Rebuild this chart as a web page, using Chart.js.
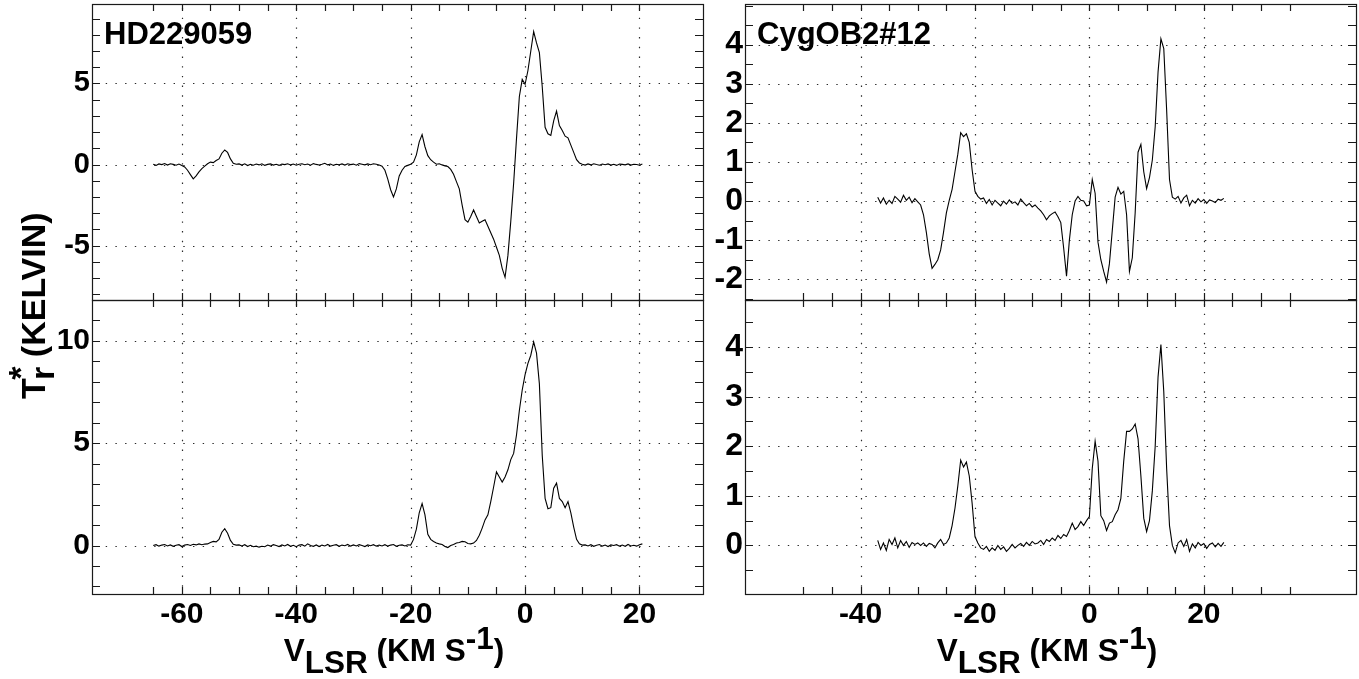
<!DOCTYPE html>
<html>
<head>
<meta charset="utf-8">
<script src="https://cdn.jsdelivr.net/npm/chart.js@4.4.1/dist/chart.umd.min.js"></script>
<style>
html,body{margin:0;padding:0;background:#fff;}
#wrap{position:relative;width:1359px;height:679px;overflow:hidden;font-family:"Liberation Sans",Arial,sans-serif;}
canvas{position:absolute;left:0;top:0;}
.ttl{position:absolute;font-weight:bold;font-size:31.5px;line-height:31.5px;white-space:nowrap;color:#000;}
.ttl .lo{position:relative;top:12px;}
.ttl .hi{position:relative;top:-12px;}
#yt{font-size:34px;line-height:34px;left:16px;top:399px;transform-origin:0 0;transform:rotate(-90deg);}
#yt .lo{top:9px;}
#yt .hi{top:-13px;margin-left:-13px;}
</style>
</head>
<body>
<div id="wrap">
<canvas id="hdTopC" width="1359" height="679"></canvas>
<canvas id="hdBotC" width="1359" height="679"></canvas>
<canvas id="cygTopC" width="1359" height="679"></canvas>
<canvas id="cygBotC" width="1359" height="679"></canvas>
<div class="ttl" style="left:394px;top:635px;transform:translateX(-50%);">V<span class="lo">LSR</span> (KM S<span class="hi">-1</span>)</div>
<div class="ttl" style="left:1047px;top:635px;transform:translateX(-50%);">V<span class="lo">LSR</span> (KM S<span class="hi">-1</span>)</div>
<div class="ttl" id="yt">T<span class="lo">r</span><span class="hi">*</span> (KELVIN)</div>
</div>
<script>
// panel names
var hdName = 'HD229059';
var cygName = 'CygOB2#12';

// velocity channels (km/s), left column
var hdVel = [
  -65,-64.5,-64,-63.5,-63,-62.5,-62,-61.5,-61,-60.5,
  -60,-59.5,-59,-58.5,-58,-57.5,-57,-56.5,-56,-55.5,
  -55,-54.5,-54,-53.5,-53,-52.5,-52,-51.5,-51,-50.5,
  -50,-49.5,-49,-48.5,-48,-47.5,-47,-46.5,-46,-45.5,
  -45,-44.5,-44,-43.5,-43,-42.5,-42,-41.5,-41,-40.5,
  -40,-39.5,-39,-38.5,-38,-37.5,-37,-36.5,-36,-35.5,
  -35,-34.5,-34,-33.5,-33,-32.5,-32,-31.5,-31,-30.5,
  -30,-29.5,-29,-28.5,-28,-27.5,-27,-26.5,-26,-25.5,
  -25,-24.5,-24,-23.5,-23,-22.5,-22,-21.5,-21,-20.5,
  -20,-19.5,-19,-18.5,-18,-17.5,-17,-16.5,-16,-15.5,
  -15,-14.5,-14,-13.5,-13,-12.5,-12,-11.5,-11,-10.5,
  -10,-9.5,-9,-8.5,-8,-7.5,-7,-6.5,-6,-5.5,
  -5,-4.5,-4,-3.5,-3,-2.5,-2,-1.5,-1,-0.5,
  0,0.5,1,1.5,2,2.5,3,3.5,4,4.5,
  5,5.5,6,6.5,7,7.5,8,8.5,9,9.5,
  10,10.5,11,11.5,12,12.5,13,13.5,14,14.5,
  15,15.5,16,16.5,17,17.5,18,18.5,19,19.5,
  20,20.5
];
// HD229059 upper spectrum (K)
var hdTop = [
  0.02,-0.05,0.04,0.00,0.06,-0.03,0.05,0.01,-0.04,0.03,
  -0.06,-0.15,-0.35,-0.62,-0.88,-0.70,-0.45,-0.25,-0.10,0.05,
  0.15,0.12,0.25,0.35,0.70,0.90,0.75,0.35,0.08,0.02,
  0.04,-0.03,0.05,-0.06,0.02,-0.04,0.03,-0.02,0.05,-0.05,
  0.01,0.04,-0.03,0.02,-0.05,0.03,0.00,0.05,-0.02,0.03,
  -0.04,0.02,0.05,-0.01,0.03,-0.04,0.06,0.01,-0.03,0.02,
  0.08,-0.02,0.03,-0.05,0.02,-0.01,0.04,-0.03,0.05,0.00,
  0.03,-0.04,0.06,0.02,-0.02,0.04,-0.01,0.05,0.02,-0.03,
  -0.10,-0.35,-0.90,-1.55,-2.00,-1.50,-0.70,-0.35,-0.12,-0.05,
  0.02,0.15,0.60,1.40,1.85,1.10,0.55,0.30,0.15,0.02,
  0.05,-0.02,-0.08,-0.12,-0.30,-0.60,-1.05,-1.50,-2.50,-3.40,
  -3.55,-3.20,-2.80,-3.20,-3.60,-3.50,-3.40,-3.80,-4.20,-4.60,
  -5.10,-5.60,-6.40,-6.95,-5.60,-3.50,-1.15,1.60,4.20,5.25,
  4.95,5.80,7.00,8.20,7.50,6.90,4.80,2.30,1.90,1.80,
  2.70,3.30,2.40,2.10,1.75,1.65,1.20,0.75,0.30,0.10,
  0.02,-0.03,0.04,-0.02,0.05,0.00,-0.04,0.03,-0.01,0.04,
  -0.03,0.02,-0.05,0.03,0.01,-0.02,0.04,-0.03,0.02,0.00,
  -0.04,0.03
];
// HD229059 lower spectrum (K)
var hdBottom = [
  0.00,0.04,-0.03,0.02,0.05,-0.02,0.03,-0.04,0.01,0.04,
  -0.05,0.02,0.05,0.00,0.06,0.03,0.08,0.04,0.07,0.08,
  0.15,0.20,0.18,0.30,0.65,0.82,0.60,0.25,0.06,0.02,
  0.03,-0.02,0.04,-0.05,0.01,-0.06,-0.03,-0.08,-0.04,-0.06,
  0.02,-0.03,0.04,0.00,-0.05,0.03,-0.02,0.05,-0.04,0.01,
  -0.06,0.02,0.04,-0.03,0.08,0.00,-0.04,0.03,-0.05,0.02,
  -0.02,0.05,-0.03,0.01,0.04,-0.04,0.02,-0.01,0.05,-0.03,
  0.03,-0.02,0.04,0.00,-0.05,0.03,-0.01,0.04,-0.03,0.02,
  -0.02,0.04,-0.03,0.02,0.05,-0.04,0.01,0.03,-0.02,0.04,
  0.02,0.30,0.80,1.60,2.05,1.50,0.55,0.30,0.20,0.12,
  0.08,0.05,-0.05,-0.10,0.00,0.05,0.12,0.15,0.20,0.18,
  0.10,0.08,0.12,0.25,0.50,0.85,1.25,1.50,2.15,2.86,
  3.60,3.35,3.10,3.35,3.70,4.20,4.50,5.40,6.60,7.60,
  8.35,8.90,9.30,9.95,9.40,7.90,4.40,2.30,1.80,1.85,
  2.80,3.05,2.30,2.15,1.85,2.15,1.60,0.90,0.30,0.08,
  0.02,0.03,-0.02,0.04,-0.04,0.01,0.05,-0.03,0.02,-0.05,
  0.03,0.00,0.04,-0.03,0.02,-0.04,0.05,-0.02,0.01,-0.03,
  0.04,0.08
];

// velocity channels (km/s), right column
var cygVel = [
  -37,-36.5,-36,-35.5,-35,-34.5,-34,-33.5,-33,-32.5,
  -32,-31.5,-31,-30.5,-30,-29.5,-29,-28.5,-28,-27.5,
  -27,-26.5,-26,-25.5,-25,-24.5,-24,-23.5,-23,-22.5,
  -22,-21.5,-21,-20.5,-20,-19.5,-19,-18.5,-18,-17.5,
  -17,-16.5,-16,-15.5,-15,-14.5,-14,-13.5,-13,-12.5,
  -12,-11.5,-11,-10.5,-10,-9.5,-9,-8.5,-8,-7.5,
  -7,-6.5,-6,-5.5,-5,-4.5,-4,-3.5,-3,-2.5,
  -2,-1.5,-1,-0.5,0,0.5,1,1.5,2,2.5,
  3,3.5,4,4.5,5,5.5,6,6.5,7,7.5,
  8,8.5,9,9.5,10,10.5,11,11.5,12,12.5,
  13,13.5,14,14.5,15,15.5,16,16.5,17,17.5,
  18,18.5,19,19.5,20,20.5,21,21.5,22,22.5,
  23,23.5
];
// CygOB2#12 upper spectrum (K)
var cygTop = [
  0.10,-0.05,0.08,-0.08,0.02,-0.06,0.12,0.05,-0.03,0.15,
  0.02,0.10,-0.04,0.06,-0.02,-0.10,-0.35,-0.80,-1.35,-1.72,
  -1.62,-1.50,-1.25,-0.80,-0.30,0.02,0.30,0.75,1.20,1.75,
  1.65,1.72,1.50,0.80,0.25,0.12,0.05,0.08,-0.06,0.04,
  -0.10,0.02,-0.05,-0.12,0.00,-0.08,0.03,-0.06,-0.02,-0.10,
  0.05,-0.04,-0.12,-0.06,-0.15,-0.10,-0.18,-0.25,-0.35,-0.48,
  -0.38,-0.32,-0.28,-0.40,-0.55,-1.20,-1.92,-1.00,-0.35,0.00,
  0.12,0.02,0.00,-0.12,-0.10,0.55,0.20,-1.05,-1.50,-1.80,
  -2.07,-1.60,-0.75,0.10,0.35,0.18,0.25,-0.35,-1.80,-1.45,
  -0.30,1.25,1.45,0.75,0.32,0.60,1.05,1.90,3.30,4.15,
  3.90,2.33,0.55,0.10,0.05,0.12,-0.05,0.08,0.15,-0.12,
  0.02,-0.05,0.06,-0.02,0.04,-0.06,0.03,0.00,-0.04,0.05,
  0.02,0.07
];
// CygOB2#12 lower spectrum (K)
var cygBottom = [
  0.10,-0.08,0.05,-0.10,0.12,0.02,0.15,-0.05,0.10,0.00,
  0.08,-0.04,0.06,0.02,0.05,0.00,0.05,-0.02,0.04,0.02,
  -0.05,0.05,0.12,0.02,0.05,0.15,0.40,0.75,1.20,1.72,
  1.58,1.68,1.40,0.85,0.18,0.05,-0.05,-0.08,-0.02,-0.12,
  -0.05,-0.10,0.00,-0.08,-0.03,-0.12,-0.06,0.02,-0.05,0.00,
  0.04,-0.02,0.06,0.00,0.08,0.03,0.05,0.10,0.02,0.12,
  0.08,0.15,0.10,0.20,0.14,0.22,0.18,0.30,0.45,0.32,
  0.38,0.48,0.40,0.50,0.58,1.55,2.10,1.70,0.60,0.50,
  0.30,0.45,0.48,0.62,0.72,0.95,1.70,2.30,2.30,2.35,
  2.45,2.15,1.40,0.55,0.28,0.50,1.10,2.00,3.40,4.05,
  3.10,1.55,0.40,0.00,-0.15,0.05,0.10,-0.02,0.12,-0.12,
  0.03,-0.05,0.06,0.00,0.04,-0.06,0.02,0.05,-0.03,0.04,
  -0.02,0.06
];

// tick labels and tick marks
var hdXLabels = [-60, -40, -20, 0, 20];
var cygXLabels = [-40, -20, 0, 20];
var hdXMinor = [-65,-60,-55,-50,-45,-40,-35,-30,-25,-20,-15,-10,-5,0,5,10,15,20];
var cygXMinor = [-50,-45,-40,-35,-30,-25,-20,-15,-10,-5,0,5,10,15,20,25,30,35];
var hdTopYLabels = [-5, 0, 5];
var hdBotYLabels = [0, 5, 10];
var cygTopYLabels = [-2, -1, 0, 1, 2, 3, 4];
var cygBotYLabels = [0, 1, 2, 3, 4];

var FONT = '"Liberation Sans", Arial, Helvetica, sans-serif';

// draws the dotted grid, the frame, inward ticks and the panel name
function framePlugin(cfg) {
  return {
    id: 'frame_' + cfg.id,
    beforeDatasetsDraw: function(chart) {
      var ctx = chart.ctx, a = chart.chartArea;
      var xs = chart.scales.x, ys = chart.scales.y;
      ctx.save();
      ctx.strokeStyle = '#2a2a2a';
      ctx.lineWidth = 1.2;
      ctx.setLineDash([1.4, 8.3]);
      cfg.xGrid.forEach(function(v) {
        var p = Math.round(xs.getPixelForValue(v)) + 0.5;
        ctx.beginPath(); ctx.moveTo(p, a.top + 4); ctx.lineTo(p, a.bottom); ctx.stroke();
      });
      cfg.yGrid.forEach(function(v) {
        var p = Math.round(ys.getPixelForValue(v)) + 0.5;
        ctx.beginPath(); ctx.moveTo(a.left + 4, p); ctx.lineTo(a.right, p); ctx.stroke();
      });
      ctx.restore();
    },
    afterDraw: function(chart) {
      var ctx = chart.ctx, a = chart.chartArea;
      var xs = chart.scales.x, ys = chart.scales.y;
      ctx.save();
      ctx.strokeStyle = '#1a1a1a';
      ctx.lineWidth = 1.2;
      ctx.beginPath();
      cfg.xMinor.forEach(function(v) {
        var p = Math.round(xs.getPixelForValue(v)) + 0.5;
        ctx.moveTo(p, a.top); ctx.lineTo(p, a.top + 7);
        ctx.moveTo(p, a.bottom); ctx.lineTo(p, a.bottom - 7);
      });
      var start = Math.ceil(ys.min / cfg.yStep) * cfg.yStep;
      for (var v = start; v <= ys.max; v += cfg.yStep) {
        var p = Math.round(ys.getPixelForValue(v)) + 0.5;
        ctx.moveTo(a.left, p); ctx.lineTo(a.left + 8, p);
        ctx.moveTo(a.right, p); ctx.lineTo(a.right - 8, p);
      }
      ctx.stroke();
      ctx.strokeRect(a.left + 0.5, a.top + 0.5, a.right - a.left, a.bottom - a.top);
      if (cfg.name) {
        ctx.fillStyle = '#000';
        ctx.font = 'bold 31px ' + FONT;
        ctx.textBaseline = 'alphabetic';
        ctx.fillText(cfg.name, a.left + 12, a.top + 40);
      }
      ctx.restore();
    }
  };
}

function makePanel(cfg) {
  var pts = cfg.vel.map(function(v, i) { return {x: v, y: cfg.temp[i]}; });
  return new Chart(document.getElementById(cfg.id), {
    type: 'line',
    data: {
      datasets: [{
        data: pts,
        borderColor: '#000',
        borderWidth: 1.1,
        pointRadius: 0,
        tension: 0,
        fill: false
      }]
    },
    options: {
      responsive: false,
      animation: false,
      events: [],
      layout: {padding: cfg.pad},
      plugins: {legend: {display: false}, tooltip: {enabled: false}},
      scales: {
        x: {
          type: 'linear',
          display: cfg.showX,
          min: cfg.xMin, max: cfg.xMax,
          grid: {display: false, drawTicks: false},
          border: {display: false},
          ticks: {color: '#000', padding: 3, maxRotation: 0, autoSkip: false,
                  font: {family: FONT, size: 30, weight: 'bold'}},
          afterBuildTicks: function(s) { s.ticks = cfg.xLabels.map(function(v) { return {value: v}; }); },
          afterFit: function(s) {
            s.height = cfg.showX ? 85 : 0;
            s.paddingLeft = 0; s.paddingRight = 0;
          }
        },
        y: {
          type: 'linear',
          min: cfg.yMin, max: cfg.yMax,
          grid: {display: false, drawTicks: false},
          border: {display: false},
          ticks: {color: '#000', padding: 2, autoSkip: false,
                  font: {family: FONT, size: cfg.yFont, weight: 'bold'}},
          afterBuildTicks: function(s) { s.ticks = cfg.yLabels.map(function(v) { return {value: v}; }); },
          afterFit: function(s) {
            s.width = cfg.yW;
            s.paddingTop = 0; s.paddingBottom = 0;
          }
        }
      }
    },
    plugins: [framePlugin({id: cfg.id, name: cfg.name, xGrid: cfg.xLabels, yGrid: cfg.yLabels,
                           xMinor: cfg.xMinor, yStep: cfg.yStep})]
  });
}

makePanel({id: 'hdTopC', name: hdName, vel: hdVel, temp: hdTop,
  xMin: -75.7, xMax: 31.1, yMin: -8.35, yMax: 9.9, yStep: 1, yFont: 29,
  xLabels: hdXLabels, yLabels: hdTopYLabels, xMinor: hdXMinor, showX: false,
  yW: 92, pad: {left: 0, right: 656, top: 4, bottom: 379}});
makePanel({id: 'hdBotC', name: null, vel: hdVel, temp: hdBottom,
  xMin: -75.7, xMax: 31.1, yMin: -2.37, yMax: 12, yStep: 1, yFont: 30,
  xLabels: hdXLabels, yLabels: hdBotYLabels, xMinor: hdXMinor, showX: true,
  yW: 92, pad: {left: 0, right: 656, top: 300, bottom: 0}});
makePanel({id: 'cygTopC', name: cygName, vel: cygVel, temp: cygTop,
  xMin: -60.2, xMax: 46.6, yMin: -2.53, yMax: 5.04, yStep: 0.5, yFont: 32,
  xLabels: cygXLabels, yLabels: cygTopYLabels, xMinor: cygXMinor, showX: false,
  yW: 33, pad: {left: 712, right: 3, top: 4, bottom: 379}});
makePanel({id: 'cygBotC', name: null, vel: cygVel, temp: cygBottom,
  xMin: -60.2, xMax: 46.6, yMin: -0.98, yMax: 4.95, yStep: 0.5, yFont: 32,
  xLabels: cygXLabels, yLabels: cygBotYLabels, xMinor: cygXMinor, showX: true,
  yW: 33, pad: {left: 712, right: 3, top: 300, bottom: 0}});
</script>
</body>
</html>
